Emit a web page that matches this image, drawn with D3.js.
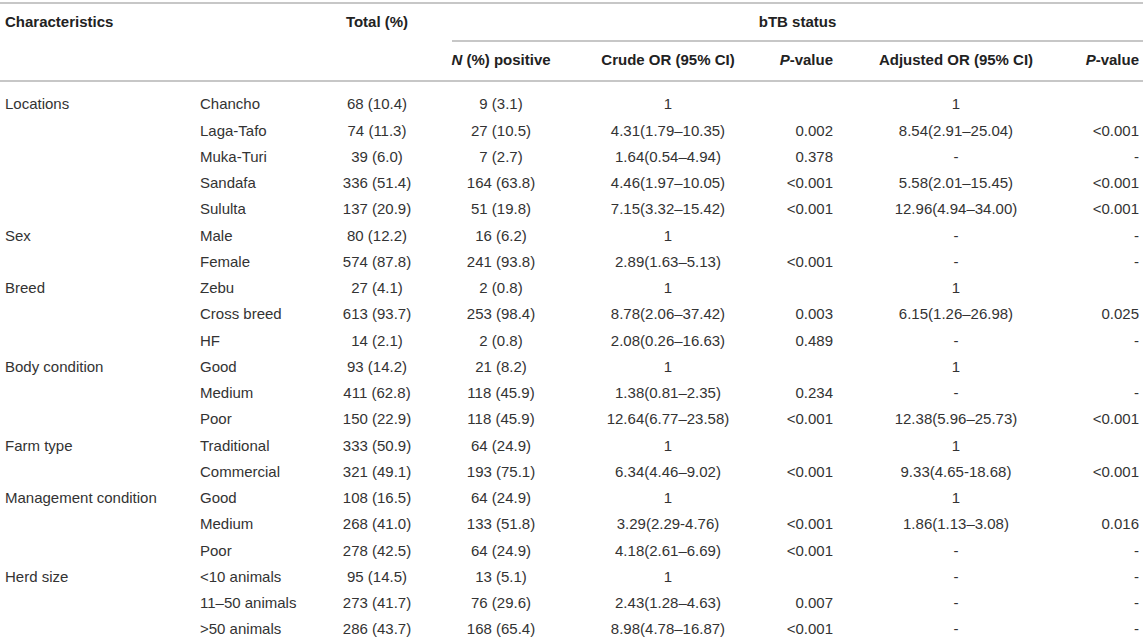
<!DOCTYPE html>
<html>
<head>
<meta charset="UTF-8">
<title>bTB status table</title>
<script src="https://cdn.jsdelivr.net/npm/d3@7"></script>
<style>
    body { margin: 0; background: #fff; }
    svg text { font-family: "Liberation Sans", Arial, Helvetica, sans-serif; font-size: 15px; fill: #333; }
    svg .hd { font-weight: bold; fill: #222; }
</style>
</head>
<body>
<svg id="tbl"></svg>
<script>
    // table content
    var groups = ["Locations", "", "", "", "", "Sex", "", "Breed", "", "", "Body condition", "", "",
        "Farm type", "", "Management condition", "", "", "Herd size", "", ""];
    var levels = ["Chancho", "Laga-Tafo", "Muka-Turi", "Sandafa", "Sululta", "Male", "Female", "Zebu",
        "Cross breed", "HF", "Good", "Medium", "Poor", "Traditional", "Commercial", "Good", "Medium", "Poor",
        "<10 animals", "11–50 animals", ">50 animals"];
    var total = ["68 (10.4)", "74 (11.3)", "39 (6.0)", "336 (51.4)", "137 (20.9)", "80 (12.2)", "574 (87.8)",
        "27 (4.1)", "613 (93.7)", "14 (2.1)", "93 (14.2)", "411 (62.8)", "150 (22.9)", "333 (50.9)",
        "321 (49.1)", "108 (16.5)", "268 (41.0)", "278 (42.5)", "95 (14.5)", "273 (41.7)", "286 (43.7)"];
    var positive = ["9 (3.1)", "27 (10.5)", "7 (2.7)", "164 (63.8)", "51 (19.8)", "16 (6.2)", "241 (93.8)",
        "2 (0.8)", "253 (98.4)", "2 (0.8)", "21 (8.2)", "118 (45.9)", "118 (45.9)", "64 (24.9)",
        "193 (75.1)", "64 (24.9)", "133 (51.8)", "64 (24.9)", "13 (5.1)", "76 (29.6)", "168 (65.4)"];
    var crudeOR = ["1", "4.31(1.79–10.35)", "1.64(0.54–4.94)", "4.46(1.97–10.05)", "7.15(3.32–15.42)",
        "1", "2.89(1.63–5.13)", "1", "8.78(2.06–37.42)", "2.08(0.26–16.63)", "1", "1.38(0.81–2.35)",
        "12.64(6.77–23.58)", "1", "6.34(4.46–9.02)", "1", "3.29(2.29-4.76)", "4.18(2.61–6.69)", "1",
        "2.43(1.28–4.63)", "8.98(4.78–16.87)"];
    var crudeP = ["", "0.002", "0.378", "<0.001", "<0.001", "", "<0.001", "", "0.003", "0.489", "",
        "0.234", "<0.001", "", "<0.001", "", "<0.001", "<0.001", "", "0.007", "<0.001"];
    var adjOR = ["1", "8.54(2.91–25.04)", "-", "5.58(2.01–15.45)", "12.96(4.94–34.00)", "-", "-", "1",
        "6.15(1.26–26.98)", "-", "1", "-", "12.38(5.96–25.73)", "1", "9.33(4.65-18.68)", "1",
        "1.86(1.13–3.08)", "-", "-", "-", "-"];
    var adjP = ["", "<0.001", "-", "<0.001", "<0.001", "-", "-", "", "0.025", "-", "", "-", "<0.001", "",
        "<0.001", "", "0.016", "-", "-", "-", "-"];

    var w = 1143, h = 643;
    var svg = d3.select("svg#tbl").attr("width", w).attr("height", h);

    var columns = [
        {key: "group", values: groups, x: 5, anchor: "start"},
        {key: "level", values: levels, x: 200, anchor: "start"},
        {key: "total", values: total, x: 377, anchor: "middle"},
        {key: "positive", values: positive, x: 501, anchor: "middle"},
        {key: "crudeOR", values: crudeOR, x: 668, anchor: "middle"},
        {key: "crudeP", values: crudeP, x: 833, anchor: "end"},
        {key: "adjOR", values: adjOR, x: 956, anchor: "middle"},
        {key: "adjP", values: adjP, x: 1139, anchor: "end"}
    ];

    var y = d3.scalePoint()
        .domain(d3.range(levels.length))
        .range([104, 629]);

    function line(x1, x2, yy) {
        svg.append("line")
            .attr("x1", x1).attr("x2", x2)
            .attr("y1", yy).attr("y2", yy)
            .attr("stroke", "#b4b4b4")
            .attr("stroke-width", 1.5);
    }

    line(0, w, 3);
    line(452, w, 41);
    line(0, w, 81);

    // header, first level
    svg.append("text").attr("class", "hd").attr("x", 5).attr("y", 22).attr("dy", "0.35em")
        .text("Characteristics");
    svg.append("text").attr("class", "hd").attr("x", 377).attr("y", 22).attr("dy", "0.35em")
        .attr("text-anchor", "middle").text("Total (%)");
    svg.append("text").attr("class", "hd").attr("x", (452 + w) / 2).attr("y", 22).attr("dy", "0.35em")
        .attr("text-anchor", "middle").text("bTB status");

    // header, second level (italic part + rest)
    var sub = [
        {col: 3, it: "N", rest: " (%) positive"},
        {col: 4, it: "", rest: "Crude OR (95% CI)"},
        {col: 5, it: "P", rest: "-value"},
        {col: 6, it: "", rest: "Adjusted OR (95% CI)"},
        {col: 7, it: "P", rest: "-value"}
    ];
    var subText = svg.selectAll("text.sub").data(sub).enter().append("text")
        .attr("class", "hd sub")
        .attr("x", function (d) { return columns[d.col].x; })
        .attr("y", 60).attr("dy", "0.35em")
        .attr("text-anchor", function (d) { return columns[d.col].anchor; });
    subText.append("tspan").attr("font-style", "italic").text(function (d) { return d.it; });
    subText.append("tspan").text(function (d) { return d.rest; });

    // body cells
    columns.forEach(function (c) {
        svg.selectAll("text.c-" + c.key).data(c.values).enter().append("text")
            .attr("class", "c-" + c.key)
            .attr("x", c.x)
            .attr("y", function (d, i) { return y(i); })
            .attr("dy", "0.35em")
            .attr("text-anchor", c.anchor)
            .text(function (d) { return d; });
    });
</script>
</body>
</html>
